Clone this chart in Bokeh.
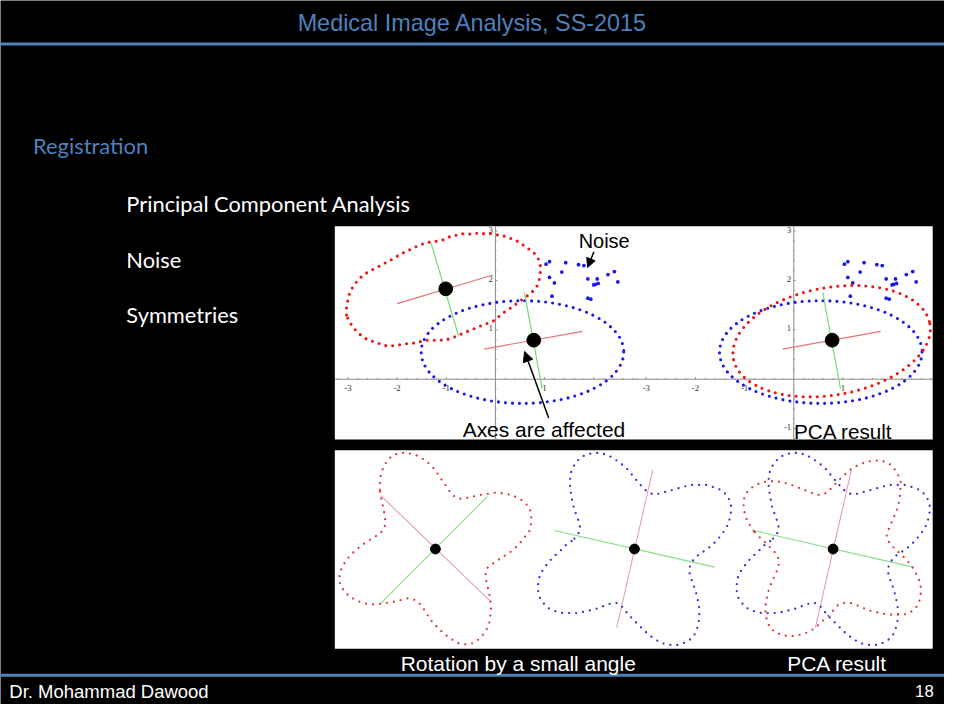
import numpy as np
from bokeh.plotting import figure
from bokeh.models import Range1d, Arrow, NormalHead
from bokeh.core.properties import value
from bokeh.embed import file_html
from bokeh.resources import INLINE

# ---------------- slide texts ----------------
SLIDE_TITLE = "Medical Image Analysis, SS-2015"
SECTION = "Registration"
BULLETS = ["Principal Component Analysis", "Noise", "Symmetries"]
AUTHOR = "Dr. Mohammad Dawood"
PAGE = "18"
NOISE_LABEL = "Noise"
AXES_LABEL = "Axes are affected"
PCA_LABEL = "PCA result"
ROTATION_LABEL = "Rotation by a small angle"

# ---------------- top panel: noise example (plot units) ----------------
x_tick_values = [-3, -2, -1, 1]
x_tick_labels = ["-3", "-2", "-1", "1"]
y_tick_values_left = [1, 2, 3]
y_tick_labels_left = ["1", "2", "3"]
y_tick_values_right = [-1, 1, 2, 3]
y_tick_labels_right = ["-1", "1", "2", "3"]

# original red point set (outline)
red_orig_x = [-3.03, -3.03, -3.01, -2.97, -2.90, -2.81, -2.72, -2.61, -2.50, -2.38,
              -2.27, -2.15, -2.05, -1.93, -1.82, -1.70, -1.58, -1.45, -1.33, -1.22,
              -1.11, -1.00, -0.89, -0.77, -0.65, -0.52, -0.40, -0.28, -0.17, -0.05,
              0.05, 0.17, 0.28, 0.40, 0.51, 0.60, 0.69, 0.77, 0.84, 0.88,
              0.91, 0.92, 0.91, 0.90, 0.88, 0.84, 0.77, 0.69, 0.60, 0.50,
              0.39, 0.28, 0.17, 0.07, -0.02, -0.13, -0.25, -0.37, -0.49, -0.61,
              -0.73, -0.87, -1.00, -1.13, -1.27, -1.40, -1.53, -1.67, -1.80, -1.93,
              -2.07, -2.20, -2.33, -2.45, -2.57, -2.67, -2.77, -2.85, -2.92, -2.98]
red_orig_y = [1.30, 1.43, 1.56, 1.73, 1.87, 1.99, 2.08, 2.16, 2.22, 2.28,
              2.34, 2.40, 2.46, 2.53, 2.59, 2.64, 2.70, 2.75, 2.78, 2.79,
              2.80, 2.86, 2.90, 2.92, 2.95, 2.94, 2.96, 2.94, 2.96, 2.94,
              2.92, 2.90, 2.86, 2.82, 2.76, 2.69, 2.63, 2.57, 2.50, 2.42,
              2.34, 2.24, 2.15, 2.06, 1.97, 1.87, 1.79, 1.72, 1.65, 1.58,
              1.50, 1.42, 1.35, 1.27, 1.19, 1.14, 1.10, 1.05, 1.00, 0.95,
              0.90, 0.84, 0.80, 0.79, 0.79, 0.79, 0.76, 0.73, 0.72, 0.70,
              0.68, 0.67, 0.71, 0.75, 0.79, 0.84, 0.92, 1.00, 1.09, 1.18]

# blue (noisy) shape and red after PCA alignment, as ellipses
ell_cx = [0.55, 0.77]
ell_cy = [0.55, 0.77]
ell_w = [4.12, 4.06]
ell_h = [2.08, 2.18]
ell_angle = [0, 10]

# extra noise points of the blue shape
noise_x = [1.03, 1.10, 1.43, 1.69, 1.80, 1.35, 1.10, 1.20, 2.29, 2.42,
           1.88, 2.07, 2.09, 2.03, 2.00, 2.49, 1.15, 1.88, 1.94]
noise_y = [2.33, 2.38, 2.36, 2.32, 2.30, 2.17, 2.06, 1.95, 2.12, 2.18,
           2.03, 2.03, 1.94, 1.92, 1.91, 1.97, 1.68, 1.64, 1.62]

# centroids and principal axes
red_centroid_x, red_centroid_y = [-1.01], [1.83]
red_major_x, red_major_y = [-2.00, -0.05], [1.53, 2.11]
red_minor_x, red_minor_y = [-1.31, -0.75], [2.76, 0.88]
blue_centroid_x, blue_centroid_y = [0.78], [0.79]
blue_major_x, blue_major_y = [-0.23, 1.77], [0.61, 0.97]
blue_minor_x, blue_minor_y = [0.59, 0.95], [1.76, -0.19]

# ---------------- bottom panel: symmetric shape (plot units, centred) --------
sym_red_u = [-1.13, -1.13, -1.11, -1.06, -0.99, -0.90, -0.78, -0.63, -0.50, -0.37,
             -0.23, -0.11, 0.00, 0.09, 0.17, 0.24, 0.34, 0.42, 0.51, 0.59,
             0.69, 0.79, 0.93, 1.07, 1.21, 1.37, 1.52, 1.67, 1.79, 1.89,
             1.94, 1.95, 1.94, 1.91, 1.82, 1.71, 1.61, 1.49, 1.37, 1.25,
             1.15, 1.05, 1.02, 1.03, 1.05, 1.09, 1.11, 1.13, 1.13, 1.11,
             1.09, 1.03, 0.94, 0.83, 0.72, 0.61, 0.49, 0.37, 0.25, 0.15,
             0.05, -0.05, -0.13, -0.21, -0.28, -0.36, -0.45, -0.57, -0.68, -0.80,
             -0.91, -1.05, -1.19, -1.35, -1.48, -1.61, -1.75, -1.85, -1.93, -1.96,
             -1.94, -1.88, -1.81, -1.71, -1.61, -1.48, -1.36, -1.23, -1.13, -1.05,
             -1.01, -1.03, -1.05, -1.08, -1.11]
sym_red_v = [1.21, 1.36, 1.53, 1.67, 1.79, 1.89, 1.95, 1.97, 1.95, 1.91,
             1.83, 1.73, 1.61, 1.47, 1.36, 1.25, 1.11, 1.05, 1.03, 1.03,
             1.06, 1.08, 1.11, 1.13, 1.15, 1.14, 1.11, 1.05, 0.98, 0.87,
             0.76, 0.63, 0.49, 0.37, 0.25, 0.11, 0.01, -0.09, -0.16, -0.24,
             -0.31, -0.39, -0.49, -0.61, -0.74, -0.87, -1.01, -1.14, -1.27, -1.41,
             -1.54, -1.67, -1.79, -1.89, -1.94, -1.95, -1.94, -1.87, -1.79, -1.71,
             -1.61, -1.51, -1.40, -1.27, -1.17, -1.07, -1.03, -1.01, -1.04, -1.07,
             -1.09, -1.11, -1.13, -1.13, -1.10, -1.05, -0.97, -0.87, -0.75, -0.62,
             -0.47, -0.34, -0.22, -0.11, -0.01, 0.09, 0.17, 0.25, 0.31, 0.41,
             0.53, 0.66, 0.79, 0.93, 1.06]
sym_blue_u = [-1.28, -1.41, -1.53, -1.65, -1.76, -1.86, -1.93, -1.96, -1.96, -1.93,
              -1.85, -1.75, -1.61, -1.46, -1.31, -1.14, -0.97, -0.83, -0.68, -0.55,
              -0.39, -0.29, -0.23, -0.15, -0.04, 0.07, 0.19, 0.31, 0.44, 0.57,
              0.71, 0.84, 0.97, 1.11, 1.21, 1.27, 1.31, 1.32, 1.31, 1.27,
              1.24, 1.19, 1.14, 1.11, 1.14, 1.21, 1.31, 1.44, 1.56, 1.67,
              1.77, 1.87, 1.93, 1.96, 1.97, 1.94, 1.87, 1.76, 1.63, 1.47,
              1.29, 1.14, 0.99, 0.84, 0.71, 0.59, 0.49, 0.41, 0.32, 0.24,
              0.14, 0.04, -0.06, -0.16, -0.29, -0.43, -0.57, -0.71, -0.86, -0.99,
              -1.11, -1.21, -1.28, -1.31, -1.31, -1.29, -1.26, -1.23, -1.18, -1.14,
              -1.11, -1.11, -1.16]
sym_blue_v = [0.16, 0.07, -0.06, -0.16, -0.29, -0.42, -0.56, -0.71, -0.85, -0.99,
              -1.11, -1.21, -1.27, -1.31, -1.31, -1.31, -1.27, -1.24, -1.19, -1.13,
              -1.10, -1.13, -1.21, -1.31, -1.43, -1.54, -1.66, -1.77, -1.86, -1.93,
              -1.96, -1.97, -1.94, -1.87, -1.77, -1.64, -1.47, -1.31, -1.14, -0.97,
              -0.84, -0.71, -0.57, -0.44, -0.31, -0.21, -0.11, -0.03, 0.06, 0.17,
              0.29, 0.43, 0.59, 0.73, 0.86, 0.99, 1.11, 1.21, 1.26, 1.31,
              1.31, 1.31, 1.27, 1.23, 1.19, 1.16, 1.13, 1.11, 1.14, 1.19,
              1.29, 1.41, 1.53, 1.65, 1.76, 1.86, 1.93, 1.97, 1.96, 1.93,
              1.86, 1.74, 1.61, 1.46, 1.27, 1.13, 0.96, 0.83, 0.69, 0.58,
              0.48, 0.38, 0.27]
# principal axes of the shapes (endpoints)
sym_red_axis1_u, sym_red_axis1_v = [-1.11, 1.12], [1.09, -1.07]
sym_red_axis2_u, sym_red_axis2_v = [-1.11, 1.05], [-1.11, 1.07]
sym_blue_axis1_u, sym_blue_axis1_v = [0.37, -0.36], [1.61, -1.61]
sym_blue_axis2_u, sym_blue_axis2_v = [-1.63, 1.63], [0.38, -0.37]
PCA_ALIGN_DEG = 34  # rotation that aligns the red axes with the blue ones

# ---------------- colours ----------------
BLUE_TXT = "#4F81BD"
RED_DOT = "#f01515"
BLUE_DOT = "#1818ee"
AX_RED = "#e87474"
AX_GREEN = "#74dc74"
S_RED = "#d83c3c"
S_BLUE = "#3434cc"
S_PINK = "#e3a0ae"
S_GREEN = "#86dc86"

# ---------------- figure: whole slide in reference pixel coordinates --------
W, H = 944, 704
SX0, SX1, SY0, SY1 = 0, 960, 720, 0
K = W / (SX1 - SX0)  # screen pixels per slide pixel
p = figure(width=W, height=H, x_range=Range1d(SX0, SX1), y_range=Range1d(SY0, SY1),
           output_backend="svg", toolbar_location=None, x_axis_type=None,
           y_axis_type=None, min_border=0, title=None,
           background_fill_color="black", border_fill_color="black",
           outline_line_color=None)
p.grid.visible = False


def fs(px):
    return f"{px * K:.2f}px"


# baseline correction (slide px per font px) for the fonts used
BASE_FIX = {"Liberation Sans": 0.20, "Lato": 0.25, "Liberation Serif": 0.20}


def slide_text(x, y, texts, font, size, color, align="left"):
    yy = [v - BASE_FIX[font] * size for v in y]
    p.text(x=x, y=yy, text=texts, text_font=value(font), text_font_size=fs(size),
           text_color=color, text_align=align, text_baseline="alphabetic")


# sub-plot coordinate systems (origin in slide pixels, slide pixels per unit)
systems = {
    "tl": (503.3, 387.3, 50.0, 50.5),
    "tr": (806.7, 387.3, 50.0, 50.5),
    "bl": (442.3, 561.0, 50.0, 50.0),
    "bm": (644.7, 561.0, 50.0, 50.0),
    "br": (846.7, 561.0, 50.0, 50.0),
}
xr, yr = {}, {}
for k, (ox, oy, sx, sy) in systems.items():
    xr[k] = Range1d((SX0 - ox) / sx, (SX1 - ox) / sx)
    yr[k] = Range1d((oy - SY0) / sy, (oy - SY1) / sy)
p.extra_x_ranges = xr
p.extra_y_ranges = yr


def px2u(k, px):
    ox, oy, sx, sy = systems[k]
    return (px - ox) / sx


def py2v(k, py):
    ox, oy, sx, sy = systems[k]
    return (oy - py) / sy


# header / footer rules
p.segment(x0=[0, 0], x1=[960, 960], y0=[44.5, 690], y1=[44.5, 690],
          line_color=BLUE_TXT, line_width=3)

slide_text([480], [27.5], [SLIDE_TITLE], "Liberation Sans", 23.8, BLUE_TXT, "center")
slide_text([33], [154], [SECTION], "Lato", 22.3, BLUE_TXT)
slide_text([128, 128, 128], [212.7, 270, 326.7], BULLETS, "Lato", 22.2, "white")
slide_text([9], [710], [AUTHOR], "Liberation Sans", 18.8, "white")
slide_text([949], [710], [PAGE], "Liberation Sans", 17, "white", "right")

# white panels
p.quad(left=[340, 340], right=[948, 948], top=[231, 460], bottom=[449, 663],
       fill_color="white", line_color=None)

# ---------------- top panel axes ----------------
TOP_Y0, TOP_Y1, SPLIT = 231, 449, 645
for k, xl, xrgt, ylabs, yvals in (("tl", 340, SPLIT, y_tick_labels_left, y_tick_values_left),
                                  ("tr", SPLIT, 948, y_tick_labels_right, y_tick_values_right)):
    u0, u1 = px2u(k, xl), px2u(k, xrgt)
    v0, v1 = py2v(k, TOP_Y1), py2v(k, TOP_Y0)
    kw = dict(x_range_name=k, y_range_name=k)
    p.segment(x0=[u0, 0], x1=[u1, 0], y0=[0, v0], y1=[0, v1], line_color="#8a8a8a",
              line_width=1, **kw)
    minor_u = [t / 5 for t in range(int(np.ceil(u0 * 5)), int(np.floor(u1 * 5)) + 1) if t != 0]
    minor_v = [t / 5 for t in range(int(np.ceil(v0 * 5)), int(np.floor(v1 * 5)) + 1) if t != 0]
    lu = [0.04 if abs(t - round(t)) < 1e-6 else 0.022 for t in minor_u]
    lv = [0.04 if abs(t - round(t)) < 1e-6 else 0.022 for t in minor_v]
    p.segment(x0=minor_u, x1=minor_u, y0=[0] * len(minor_u), y1=lu, line_color="#8a8a8a",
              line_width=1, **kw)
    p.segment(x0=[0] * len(minor_v), x1=lv, y0=minor_v, y1=minor_v, line_color="#8a8a8a",
              line_width=1, **kw)
    p.text(x=x_tick_values, y=[-0.18] * len(x_tick_values), text=x_tick_labels,
           text_font=value("Liberation Serif"), text_font_size=fs(9), text_color="#333333",
           text_align="center", text_baseline="alphabetic", **kw)
    p.text(x=[-0.05] * len(yvals), y=[v + 0.03 for v in yvals], text=ylabs,
           text_font=value("Liberation Serif"), text_font_size=fs(9), text_color="#333333",
           text_align="right", text_baseline="middle", **kw)

# ---------------- top panel data ----------------
dot_kw = dict(fill_color=None, line_width=3.1, line_dash="0 7", line_cap="round",
              angle_units="deg")


def closed(a):
    return list(a) + [a[0]]


# left: original red + noisy blue
p.line(x=closed(red_orig_x), y=closed(red_orig_y), line_color=RED_DOT, line_width=3.1,
       line_dash="0 7", line_cap="round", x_range_name="tl", y_range_name="tl")
for k in ("tl", "tr"):
    p.ellipse(x=[ell_cx[0]], y=[ell_cy[0]], width=[ell_w[0]], height=[ell_h[0]],
              angle=[ell_angle[0]], line_color=BLUE_DOT, x_range_name=k, y_range_name=k, **dot_kw)
    p.scatter(x=noise_x, y=noise_y, size=3.8 * K, marker="circle", fill_color=BLUE_DOT,
              line_color=None, x_range_name=k, y_range_name=k)
p.ellipse(x=[ell_cx[1]], y=[ell_cy[1]], width=[ell_w[1]], height=[ell_h[1]],
          angle=[ell_angle[1]], line_color=RED_DOT, x_range_name="tr", y_range_name="tr", **dot_kw)

p.line(x=red_major_x, y=red_major_y, line_color=AX_RED, line_width=1.2, x_range_name="tl", y_range_name="tl")
p.line(x=red_minor_x, y=red_minor_y, line_color=AX_GREEN, line_width=1.2, x_range_name="tl", y_range_name="tl")
p.scatter(x=red_centroid_x, y=red_centroid_y, size=14 * K, color="black", x_range_name="tl", y_range_name="tl")
for k in ("tl", "tr"):
    p.line(x=blue_major_x, y=blue_major_y, line_color=AX_RED, line_width=1.2, x_range_name=k, y_range_name=k)
    p.line(x=blue_minor_x, y=blue_minor_y, line_color=AX_GREEN, line_width=1.2, x_range_name=k, y_range_name=k)
    p.scatter(x=blue_centroid_x, y=blue_centroid_y, size=14 * K, color="black", x_range_name=k, y_range_name=k)

# annotations
slide_text([588], [250], [NOISE_LABEL], "Liberation Sans", 20.3, "black")
slide_text([470], [443.5], [AXES_LABEL], "Liberation Sans", 21.3, "black")
slide_text([807], [445], [PCA_LABEL], "Liberation Sans", 21.0, "black")
p.add_layout(Arrow(end=NormalHead(size=9, fill_color="black", line_color="black"),
                   x_start=603.5, y_start=257, x_end=597, y_end=273,
                   line_color="black", line_width=1.5))
p.add_layout(Arrow(end=NormalHead(size=10, fill_color="black", line_color="black"),
                   x_start=557.5, y_start=427, x_end=533, y_end=359,
                   line_color="black", line_width=1.5))

# ---------------- bottom panel ----------------
rad = np.deg2rad(PCA_ALIGN_DEG)
ru = np.array(sym_red_u)
rv = np.array(sym_red_v)
red_rot_u = list(ru * np.cos(rad) - rv * np.sin(rad))
red_rot_v = list(ru * np.sin(rad) + rv * np.cos(rad))

sdot = dict(line_width=2.3, line_dash="0 7", line_cap="round")
# left: red shape with its principal axes
p.line(x=sym_red_axis1_u, y=sym_red_axis1_v, line_color=S_PINK, line_width=1.1, x_range_name="bl", y_range_name="bl")
p.line(x=sym_red_axis2_u, y=sym_red_axis2_v, line_color=S_GREEN, line_width=1.1, x_range_name="bl", y_range_name="bl")
p.line(x=closed(sym_red_u), y=closed(sym_red_v), line_color=S_RED, x_range_name="bl", y_range_name="bl", **sdot)
# middle and right: blue rotated shape
for k in ("bm", "br"):
    p.line(x=sym_blue_axis1_u, y=sym_blue_axis1_v, line_color=S_PINK, line_width=1.1, x_range_name=k, y_range_name=k)
    p.line(x=sym_blue_axis2_u, y=sym_blue_axis2_v, line_color=S_GREEN, line_width=1.1, x_range_name=k, y_range_name=k)
    p.line(x=closed(sym_blue_u), y=closed(sym_blue_v), line_color=S_BLUE, x_range_name=k, y_range_name=k, **sdot)
p.line(x=closed(red_rot_u), y=closed(red_rot_v), line_color=S_RED, x_range_name="br", y_range_name="br", **sdot)
for k in ("bl", "bm", "br"):
    p.scatter(x=[0], y=[0], size=10 * K, color="black", x_range_name=k, y_range_name=k)

slide_text([407], [682], [ROTATION_LABEL], "Liberation Sans", 21.3, "white")
slide_text([800], [682], [PCA_LABEL], "Liberation Sans", 21.3, "white")

open("out.html", "w").write(file_html(p, INLINE))
